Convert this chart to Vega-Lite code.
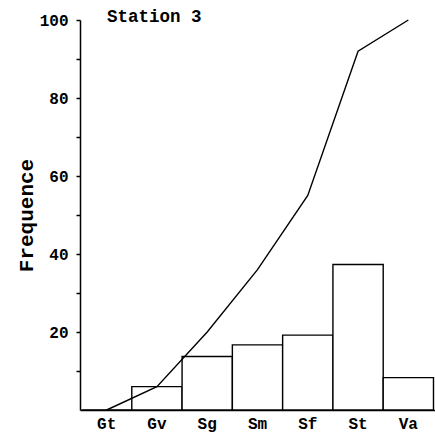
{
  "$schema": "https://vega.github.io/schema/vega-lite/v6.json",
  "width": 355,
  "height": 390,
  "autosize": {"type": "none"},
  "padding": {"left": 80, "top": 20, "right": 0, "bottom": 28},
  "background": "white",
  "title": {
    "text": "Station 3",
    "anchor": "start",
    "frame": "group",
    "dx": 27,
    "offset": -27,
    "baseline": "alphabetic",
    "font": "Liberation Mono",
    "fontSize": 17.5,
    "fontWeight": "bold",
    "color": "black"
  },
  "data": {
    "values": [
      {"classe": "Gt", "frequence": 0, "cumul": 0},
      {"classe": "Gv", "frequence": 6, "cumul": 6},
      {"classe": "Sg", "frequence": 13.7, "cumul": 20},
      {"classe": "Sm", "frequence": 16.7, "cumul": 36},
      {"classe": "Sf", "frequence": 19.2, "cumul": 55},
      {"classe": "St", "frequence": 37.3, "cumul": 92},
      {"classe": "Va", "frequence": 8.3, "cumul": 100}
    ]
  },
  "config": {
    "view": {"stroke": null},
    "axis": {
      "grid": false,
      "domainColor": "black",
      "domainWidth": 1.5,
      "tickColor": "black",
      "labelColor": "black",
      "titleColor": "black",
      "labelFont": "Liberation Mono",
      "titleFont": "Liberation Mono",
      "labelFontWeight": "bold",
      "titleFontWeight": "bold"
    }
  },
  "encoding": {
    "x": {
      "field": "classe",
      "type": "nominal",
      "sort": null,
      "scale": {"paddingInner": 0, "paddingOuter": 0.03},
      "axis": {
        "title": null,
        "labelAngle": 0,
        "ticks": false,
        "labelPadding": 5,
        "labelFontSize": 16
      }
    }
  },
  "layer": [
    {
      "mark": {"type": "bar", "fill": "white", "stroke": "black", "strokeWidth": 1.4},
      "encoding": {
        "y": {
          "field": "frequence",
          "type": "quantitative",
          "scale": {"domain": [0, 100], "nice": false},
          "axis": {
            "title": "Frequence",
            "titleFontSize": 21,
            "titlePadding": 3,
            "values": [10, 20, 30, 40, 50, 60, 70, 80, 90, 100],
            "labelExpr": "datum.value % 20 == 0 ? datum.label : ''",
            "labelFontSize": 16,
            "tickSize": 4,
            "tickWidth": 1.5,
            "labelPadding": 8
          }
        }
      }
    },
    {
      "mark": {"type": "line", "color": "black", "strokeWidth": 1.4},
      "encoding": {
        "y": {"field": "cumul", "type": "quantitative"}
      }
    }
  ]
}
